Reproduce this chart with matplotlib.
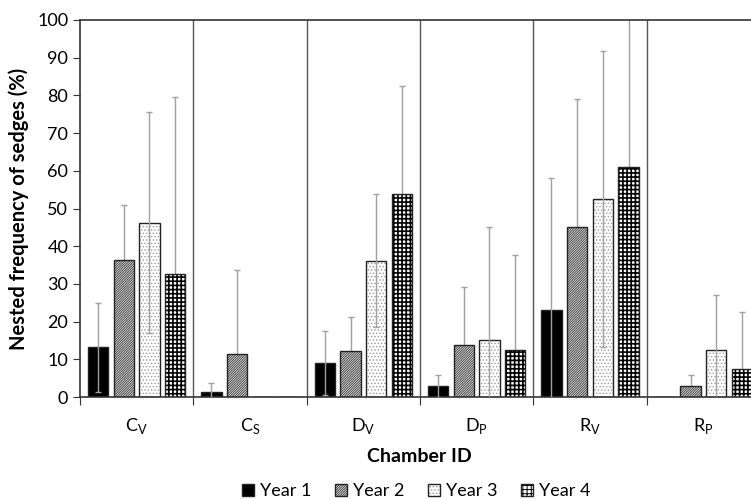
import numpy as np
import matplotlib
matplotlib.use('Agg')
import matplotlib.pyplot as plt

plt.rcParams['font.family'] = ['Lato', 'DejaVu Sans']
plt.rcParams['hatch.linewidth'] = 0.7

# data
chambers = ['C$_\\mathregular{V}$', 'C$_\\mathregular{S}$', 'D$_\\mathregular{V}$',
            'D$_\\mathregular{P}$', 'R$_\\mathregular{V}$', 'R$_\\mathregular{P}$']
years = ['Year 1', 'Year 2', 'Year 3', 'Year 4']
year1 = [13.2, 1.3, 9.0, 2.8, 23.0, 0.0]
year2 = [36.3, 11.3, 12.2, 13.9, 45.1, 2.8]
year3 = [46.2, 0.0, 36.2, 15.0, 52.6, 12.5]
year4 = [32.5, 0.0, 53.8, 12.5, 60.9, 7.5]
err1 = [11.8, 2.4, 8.5, 3.1, 35.0, 0.0]
err2 = [14.7, 22.4, 9.0, 15.4, 33.9, 3.1]
err3 = [29.3, 0.0, 17.6, 30.1, 39.3, 14.5]
err4 = [47.2, 0.0, 28.7, 25.1, 42.0, 15.0]

values = [year1, year2, year3, year4]
errors = [err1, err2, err3, err4]
hatches = [None, '//////////////', '.....', '++++']
faces = ['black', 'white', 'white', 'white']
hcolors = ['black', '#3a3a3a', '#9a9a9a', 'black']
hwidths = [0.7, 0.7, 0.6, 1.2]
err_z = [3, 1.5, 3, 1.5]

fig = plt.figure(figsize=(7.51, 4.99), dpi=100)
ax = fig.add_axes([80 / 751, 1 - 397 / 499, 680 / 751, 377 / 499])

x = np.arange(len(chambers)) + 0.5
offsets = [-0.34, -0.113, 0.113, 0.34]
width = 0.18

for i in range(4):
    bars = ax.bar(x + offsets[i], values[i], width, color=faces[i],
                  edgecolor='#222222', linewidth=1.0, hatch=hatches[i],
                  label=years[i], zorder=2)
    if hatches[i]:
        for b in bars:
            b._hatch_color = matplotlib.colors.to_rgba(hcolors[i])
            if hasattr(b, 'set_hatch_linewidth'):
                b.set_hatch_linewidth(hwidths[i])
    shown = [j for j in range(len(chambers)) if values[i][j] > 0]
    ax.errorbar(x[shown] + offsets[i], np.array(values[i])[shown],
                yerr=np.array(errors[i])[shown], fmt='none',
                ecolor='#a0a0a0', elinewidth=1.0, capsize=2.5, capthick=1.0,
                zorder=err_z[i])

# separators between chambers
for k in range(1, len(chambers)):
    ax.axvline(k, color='#555555', linewidth=1.0, zorder=1)

ax.set_xlim(0, len(chambers))
ax.set_ylim(0, 100)
ax.set_yticks(np.arange(0, 101, 10))
ax.set_xticks(np.arange(0, len(chambers) + 1))
ax.set_xticklabels([])
ax.set_xticks(x, minor=True)
ax.set_xticklabels(chambers, minor=True)
ax.tick_params(axis='x', which='minor', length=0, pad=14, labelsize=13)
ax.tick_params(axis='x', which='major', length=6, direction='out', color='#333333')
ax.tick_params(axis='y', length=5, direction='out', labelsize=13, color='#333333')

for s in ['left', 'bottom', 'top']:
    ax.spines[s].set_color('#333333')
    ax.spines[s].set_linewidth(1.2)
ax.spines['right'].set_visible(False)

ax.set_ylabel('Nested frequency of sedges (%)', fontsize=14.5, fontweight='bold', labelpad=6)
ax.set_xlabel('Chamber ID', fontsize=14, fontweight='bold')
ax.xaxis.set_label_coords(339 / 680, -0.135)

leg = ax.legend(loc='center', bbox_to_anchor=(336 / 680, -0.25), ncol=4, frameon=False,
                fontsize=13, handlelength=0.7, handleheight=0.7, handletextpad=0.3,
                columnspacing=1.3)

fig.savefig('out.png', dpi=100)
